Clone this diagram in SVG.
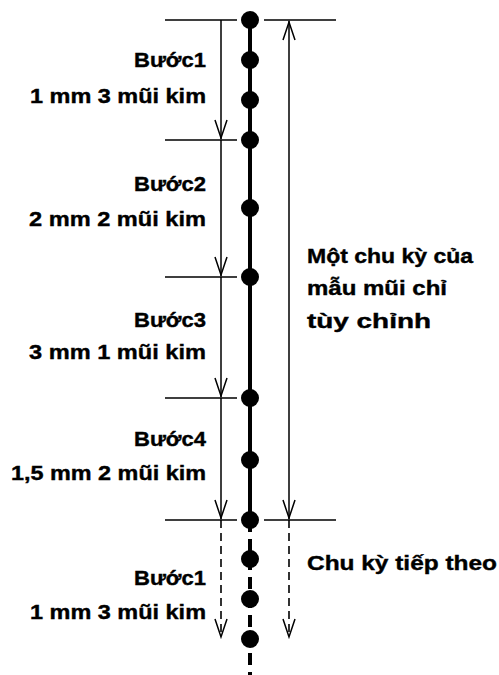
<svg xmlns="http://www.w3.org/2000/svg" width="499" height="675" viewBox="0 0 499 675">
<style>
.t{font-family:"Liberation Sans",Arial,sans-serif;font-weight:bold;font-size:21px;fill:#000;stroke:#000;stroke-width:0.4}
.l{text-anchor:end}
.thin{stroke:#000;stroke-width:1.5;fill:none}
.dash{stroke:#000;stroke-width:1.6;fill:none;stroke-dasharray:8 5}
.head{stroke:#000;stroke-width:1.5;fill:none}
.dot{fill:#000}
</style>
<rect width="499" height="675" fill="#fff"/>
<g id="connectors">
<path class="thin" d="M165 20H237M165 140H237M165 277H237M165 398H237M165 520H237M264 20H336M264 520H336"/>
<line x1="250" y1="20" x2="250" y2="520" stroke="#000" stroke-width="4"/>
<line x1="250" y1="520" x2="250" y2="675" stroke="#000" stroke-width="4" stroke-dasharray="12 7"/>
<path class="thin" d="M221 20V139M221 140V276M221 277V397M221 398V519M289 21V519"/>
<path class="head" d="M215 120L221 138L227 120M215 257L221 275L227 257M215 378L221 396L227 378M215 500L221 518L227 500M283 40L289 22L295 40M283 500L289 518L295 500"/>
<path class="dash" d="M221 520V636M289 520V636"/>
<path class="head" d="M215 619L221 637L227 619M283 619L289 637L295 619"/>
</g>
<g id="stitches">
<circle class="dot" cx="250" cy="20" r="9"/>
<circle class="dot" cx="250" cy="60" r="9"/>
<circle class="dot" cx="250" cy="100" r="9"/>
<circle class="dot" cx="250" cy="140" r="9"/>
<circle class="dot" cx="250" cy="208" r="9"/>
<circle class="dot" cx="250" cy="277" r="9"/>
<circle class="dot" cx="250" cy="398" r="9"/>
<circle class="dot" cx="250" cy="460" r="9"/>
<circle class="dot" cx="250" cy="520" r="9"/>
<circle class="dot" cx="250" cy="559" r="9"/>
<circle class="dot" cx="250" cy="599" r="9"/>
<circle class="dot" cx="250" cy="639" r="9"/>
</g>
<g id="step1">
<text class="t l" x="206" y="67" textLength="72" lengthAdjust="spacingAndGlyphs">Bước1</text>
<text class="t l" x="206" y="103" textLength="176" lengthAdjust="spacingAndGlyphs">1 mm 3 mũi kim</text>
</g>
<g id="step2">
<text class="t l" x="206" y="191" textLength="72" lengthAdjust="spacingAndGlyphs">Bước2</text>
<text class="t l" x="206" y="226" textLength="177" lengthAdjust="spacingAndGlyphs">2 mm 2 mũi kim</text>
</g>
<g id="step3">
<text class="t l" x="206" y="327" textLength="72" lengthAdjust="spacingAndGlyphs">Bước3</text>
<text class="t l" x="206" y="359" textLength="177" lengthAdjust="spacingAndGlyphs">3 mm 1 mũi kim</text>
</g>
<g id="step4">
<text class="t l" x="206" y="446" textLength="72" lengthAdjust="spacingAndGlyphs">Bước4</text>
<text class="t l" x="206" y="480" textLength="195" lengthAdjust="spacingAndGlyphs">1,5 mm 2 mũi kim</text>
</g>
<g id="step1-next">
<text class="t l" x="206" y="585" textLength="72" lengthAdjust="spacingAndGlyphs">Bước1</text>
<text class="t l" x="206" y="619" textLength="176" lengthAdjust="spacingAndGlyphs">1 mm 3 mũi kim</text>
</g>
<g id="cycle">
<text class="t" x="307" y="263" textLength="166" lengthAdjust="spacingAndGlyphs">Một chu kỳ của</text>
<text class="t" x="307" y="295" textLength="140" lengthAdjust="spacingAndGlyphs">mẫu mũi chỉ</text>
<text class="t" x="307" y="328" textLength="124" lengthAdjust="spacingAndGlyphs">tùy chỉnh</text>
</g>
<g id="next-cycle">
<text class="t" x="307" y="570" textLength="190" lengthAdjust="spacingAndGlyphs">Chu kỳ tiếp theo</text>
</g>
</svg>
